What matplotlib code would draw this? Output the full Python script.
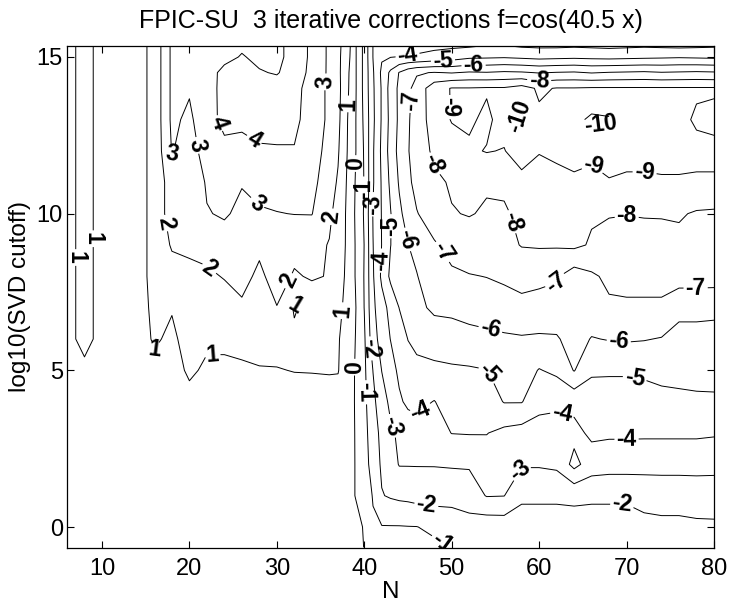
import numpy as np
import matplotlib
matplotlib.use("Agg")
import matplotlib.pyplot as plt

plt.rcParams['font.family'] = ['Liberation Sans', 'DejaVu Sans']

# grid: number of points N (columns) and log10 of the SVD cutoff (rows)
n_vals = [6, 8, 10, 12, 14, 16, 18, 20, 22, 24, 26, 28, 30, 32, 34,
          36, 37, 38, 39, 40, 41, 42, 43, 44, 45, 46,
          48, 50, 52, 54, 56, 58, 60, 62, 64, 66, 68, 70, 72, 74, 76, 78, 80]
cutoff_vals = [-0.65, 0, 1, 2, 3, 4, 5, 6, 7, 8, 9, 10, 11, 12, 13, 14, 14.5, 15, 15.35]

# log10 of the error, one list per cutoff row
err_m065 = [.7, .7, .7, .7, .7, .7, .7, .7, .7, .7, .7, .7, .7, .7, .65,
            .45, .4, .3, .25, -.02, -.4, -.6, -.7, -.7, -.7, -.7,
            -.8, -1.05, -1.3, -1.4, -1.4, -1.45, -1.45, -1.45, -1.5, -1.5, -1.5, -1.5, -1.55, -1.6, -1.6, -1.6, -1.65]
err_0 = [.7, .7, .7, .7, .7, .7, .7, .7, .7, .7, .7, .7, .7, .7, .6,
         .45, .4, .3, .2, -.05, -.9, -.95, -.95, -.95, -.97, -.98,
         -1.2, -1.5, -1.6, -1.35, -1.4, -1.6, -1.6, -1.6, -1.6, -1.6, -1.6, -1.6, -1.75, -1.8, -1.8, -1.85, -1.85]
err_1 = [.7, .7, .7, .7, .7, .7, .7, .7, .7, .7, .7, .7, .7, .7, .6,
         .5, .4, .25, -.02, -.55, -1.05, -1.95, -2.1, -2.2, -2.25, -2.35,
         -2.4, -2.3, -2.5, -3.05, -3.02, -2.15, -2.15, -2.15, -2.2, -2.15, -2.15, -2.15, -2.3, -2.35, -2.35, -2.4, -2.45]
err_2 = [.7, .7, .7, .7, .7, .7, .7, .7, .7, .7, .7, .7, .7, .7, .6,
         .5, .4, .25, -.02, -.6, -1.4, -2.15, -2.6, -3.05, -3.05, -3.05,
         -3.05, -3.1, -3.1, -3.5, -3.35, -3.1, -3.1, -3.2, -4.3, -3.5, -3.4, -3.4, -3.35, -3.35, -3.35, -3.35, -3.3]
err_3 = [.7, .7, .7, .7, .7, .7, .7, .7, .7, .7, .7, .7, .7, .7, .7,
         .6, .5, .3, -.03, -.7, -1.5, -2.3, -2.85, -3.15, -3.4, -3.6,
         -3.6, -4.02, -4.05, -4.03, -3.75, -3.6, -3.6, -3.6, -3.7, -4.2, -4.15, -4.15, -4.15, -4.15, -4.15, -4.15, -4.1]
err_4 = [.8, .8, .8, .8, .75, .75, .75, .8, .75, .75, .75, .75, .75, .7, .7,
         .7, .6, .35, -.05, -.75, -1.75, -2.6, -3.2, -3.85, -4.2, -4.25,
         -3.97, -4.4, -4.5, -4.5, -5.05, -5.05, -4.3, -4.2, -4.3, -4.65, -4.6, -4.6, -4.65, -4.7, -4.75, -4.8, -4.8]
err_5 = [.8, .85, .8, .8, .6, .8, .75, 1.1, .9, .85, .9, .95, .97, 1.02, 1.03,
         1.05, 1.05, .4, -.05, -.8, -2.02, -3.02, -3.6, -4.2, -4.6, -4.7,
         -4.75, -4.85, -4.9, -4.98, -5.3, -5.45, -4.95, -5.2, -6.05, -5.1, -5.1, -5.1, -5.15, -5.3, -5.35, -5.4, -5.45]
err_6 = [.8, 1.2, .8, .8, .6, 1.1, .85, 1.3, 1.1, 1.15, 1.2, 1.3, 1.25, 1.2, 1.25,
         1.3, 1.05, .75, -.02, -.85, -2.6, -3.4, -4.02, -4.5, -5.02, -5.3,
         -5.55, -5.6, -5.65, -5.75, -5.85, -5.9, -5.85, -5.9, -6.4, -5.95, -6.05, -6.1, -6.05, -5.95, -5.7, -5.7, -5.7]
err_7 = [.8, 1.2, .8, .8, .6, 1.2, 1.05, 1.4, 1.5, 1.6, 1.85, 1.6, 1.97, .9, 1.4,
         1.4, 1.15, .85, .05, -1.02, -2.8, -3.6, -4.3, -5.02, -5.4, -5.8,
         -6.15, -6.2, -6.4, -6.5, -6.6, -6.75, -6.7, -6.6, -6.5, -6.6, -6.85, -6.85, -6.85, -6.85, -6.25, -6.25, -6.2]
err_8 = [.8, 1.2, .8, .8, .6, 1.3, 1.6, 1.8, 1.85, 2.05, 2.3, 1.8, 2.4, 1.9, 2.1,
         1.95, 1.4, .85, -.05, -1.05, -2.9, -4.2, -5.2, -5.6, -5.9, -5.95,
         -6.7, -6.85, -6.95, -7.02, -7.15, -7.3, -7.2, -7.1, -6.5, -6.85, -7.2, -7.3, -7.3, -7.3, -7.45, -7.45, -7.45]
err_9 = [.8, 1.2, .8, .8, .6, 1.3, 2.1, 2.15, 2.3, 2.6, 2.5, 2.2, 2.4, 2.3, 2.3,
         1.95, 1.5, .9, -.05, -1.02, -2.98, -4.02, -4.98, -5.5, -5.98, -6.3,
         -6.9, -7.3, -7.55, -7.65, -7.7, -8.05, -8.1, -8.1, -8.2, -7.9, -7.7, -7.7, -7.7, -7.75, -7.75, -7.8, -7.8]
err_10 = [.8, 1.2, .8, .8, .6, 1.3, 2.5, 2.2, 2.95, 3.1, 2.8, 2.9, 2.97, 3.02, 3.03,
          2.2, 1.6, .9, -.1, -1.1, -3.05, -4.05, -4.95, -5.8, -6.4, -6.95,
          -7.5, -7.95, -8.05, -7.9, -7.9, -8.2, -8.3, -8.3, -8.3, -8.1, -8.05, -8.02, -8.05, -8.05, -8.1, -7.9, -7.85]
err_11 = [.8, 1.2, .8, .8, .6, 1.3, 2.5, 2.3, 3.1, 3.3, 3.05, 3.3, 3.4, 3.4, 3.3,
          2.4, 1.9, .95, -.05, -1.05, -2.9, -4.1, -5.2, -6.1, -6.8, -7.3,
          -7.8, -8.1, -8.3, -8.1, -8.15, -8.6, -8.6, -8.7, -8.8, -8.75, -8.95, -8.85, -8.85, -8.9, -8.9, -8.9, -8.9]
err_12 = [.8, 1.2, .8, .8, .6, 1.3, 3.05, 2.6, 3.4, 3.8, 3.7, 3.9, 3.95, 3.95, 3.4,
          2.7, 2.1, 1.05, .05, -1.1, -2.9, -4.2, -5.4, -6.3, -6.95, -7.4,
          -8.2, -8.6, -8.85, -9.05, -8.95, -9.6, -9.05, -9.2, -9.4, -9.2, -9.3, -9.3, -9.3, -9.3, -9.3, -9.2, -9.2]
err_13 = [.8, 1.2, .8, .8, .6, 1.3, 3.2, 2.8, 3.7, 4.2, 4.2, 4.3, 4.2, 4.2, 3.6,
          2.8, 2.25, 1.1, .05, -1.2, -2.8, -4.1, -5.3, -6.2, -6.9, -7.4,
          -8.5, -9.05, -9.15, -8.8, -9.4, -10.2, -9.2, -9.3, -9.7, -10.2, -10.1, -9.6, -9.5, -9.4, -9.2, -8.9, -8.8]
err_14 = [.8, 1.2, .8, .8, .6, 1.3, 3.2, 3.1, 3.6, 4.3, 4.4, 4.3, 4.3, 4.3, 3.6,
          2.8, 2.3, 1.25, .1, -1.3, -2.85, -4.1, -5.4, -6.2, -6.8, -7.35,
          -8.6, -9.05, -9.05, -9.1, -9.1, -9.4, -8.85, -9.05, -9.05, -9.1, -9.1, -9.1, -9.1, -9.1, -9.1, -9.1, -9.1]
err_145 = [.8, 1.2, .8, .8, .6, 1.3, 3.2, 3.5, 3.7, 4.2, 4.3, 4.05, 3.95, 4.3, 3.85,
           2.8, 2.25, 1.3, .1, -1.3, -2.9, -4.2, -5.2, -6.05, -6.6, -6.9,
           -7.05, -6.95, -7.1, -7.05, -7.15, -7.1, -6.95, -7.05, -7.1, -6.95, -7.05, -7.1, -7.15, -7.05, -7.1, -7.15, -7.1]
err_15 = [.8, 1.2, .8, .8, .6, 1.3, 3.2, 3.5, 3.7, 3.8, 4.05, 3.85, 3.8, 4.3, 3.9,
          2.8, 2.2, 1.5, .1, -1.3, -3.02, -3.9, -3.97, -4.03, -4.06, -4.1,
          -4.3, -4.5, -4.8, -4.85, -4.9, -4.8, -4.7, -4.75, -4.8, -4.75, -4.7, -4.75, -4.8, -4.85, -4.9, -4.85, -4.8]
err_1535 = [.8, 1.2, .8, .8, .6, 1.3, 3.2, 3.6, 3.8, 3.8, 3.9, 3.8, 3.8, 4.3, 3.9,
            2.8, 2.2, 1.6, .1, -1.3, -3.02, -3.6, -3.7, -3.7, -3.75, -3.75,
            -3.8, -3.85, -3.9, -4.05, -4.05, -3.9, -3.85, -3.85, -3.9, -3.85, -3.8, -3.85, -3.9, -3.85, -3.8, -3.85, -3.9]

levels = list(range(-10, 5))

# where each contour level gets its labels
label_spots = {
    4: [(22.7, 12.8), (28.4, 12.8)],
    3: [(17.4, 11.8), (21.4, 12.2), (28.0, 10.4), (35.8, 14.2)],
    2: [(21.8, 9.9), (22.7, 8.4), (30.3, 8.0), (36.3, 9.9)],
    1: [(9.0, 9.2), (15.5, 5.5), (22.6, 5.9), (32.6, 7.2), (37.6, 6.9), (38.3, 13.5)],
    0: [(38.9, 11.6), (39.0, 5.1)],
    -1: [(39.8, 10.8), (40.3, 4.3), (49.4, -0.3)],
    -2: [(40.8, 5.7), (46.9, 0.3), (69.5, 0.8)],
    -3: [(41.0, 10.3), (42.9, 3.2), (57.9, 1.8)],
    -4: [(42.0, 8.5), (47.0, 3.5), (62.7, 3.7), (70.0, 2.6), (45.0, 14.95)],
    -5: [(43.0, 9.6), (54.8, 5.0), (71.0, 4.85), (49.0, 14.9)],
    -6: [(45.4, 9.2), (54.5, 6.4), (69.1, 5.9), (52.5, 14.7)],
    -7: [(48.5, 8.7), (62.7, 7.6), (77.9, 7.2), (45.3, 13.6)],
    -8: [(48.2, 11.6), (57.6, 9.8), (70.0, 9.9), (60.0, 14.2)],
    -9: [(49.5, 13.4), (67.4, 12.0), (72.0, 11.2)],
    -10: [(57.8, 13.1), (67.0, 12.9)],
}

err = np.array([err_m065, err_0, err_1, err_2, err_3, err_4, err_5, err_6, err_7,
                err_8, err_9, err_10, err_11, err_12, err_13, err_14, err_145,
                err_15, err_1535])

fig = plt.figure(figsize=(7.32, 6.07), dpi=100)
ax = fig.add_axes([67 / 732, 1 - 548 / 607, 647 / 732, 502 / 607])

cs = ax.contour(n_vals, cutoff_vals, err, levels=levels, colors='k',
                linewidths=0.7, linestyles='solid')
ax.set_xlim(6, 80)
ax.set_ylim(-0.67, 15.35)


def label_on_level(cs, lev, x, y, spacing=2):
    # put one inline label on the given level, nearest to (x, y)
    k = cs.levels.tolist().index(lev)
    xy = ax.transData.transform((x, y))
    i_lev, i_vtx, proj = cs._find_nearest_contour(xy, [k])
    width = cs._get_nth_label_width(k)
    rot, path = cs._split_path_and_get_label_rotation(
        cs._paths[i_lev], i_vtx, proj, width, spacing)
    cs.add_label(*proj, rot, cs.labelLevelList[i_lev], cs.labelCValueList[i_lev])
    cs._paths[i_lev] = path


fig.canvas.draw()
with plt.rc_context({'font.weight': 'bold'}):
    # first label sets up the label machinery for all levels
    ax.clabel(cs, levels=levels, manual=[(6.8, 8.6)], inline=True, fmt='%d',
              fontsize=16.5, inline_spacing=2)
    for lev, spots in label_spots.items():
        for x, y in spots:
            label_on_level(cs, lev, x, y)

ax.set_xticks([10, 20, 30, 40, 50, 60, 70, 80])
ax.set_yticks([0, 5, 10, 15])
ax.tick_params(direction='in', top=True, right=True, length=5, width=0.8,
               labelsize=17)
ax.tick_params(axis='x', pad=7)
ax.tick_params(axis='y', pad=3)
for sp in ax.spines.values():
    sp.set_linewidth(0.9)

ax.set_xlabel('N', fontsize=17.5, labelpad=1)
ax.set_ylabel('log10(SVD cutoff)', fontsize=17.5, labelpad=4)
ax.set_title('FPIC-SU  3 iterative corrections f=cos(40.5 x)', fontsize=18, pad=13)

fig.savefig('out.png', dpi=100)
